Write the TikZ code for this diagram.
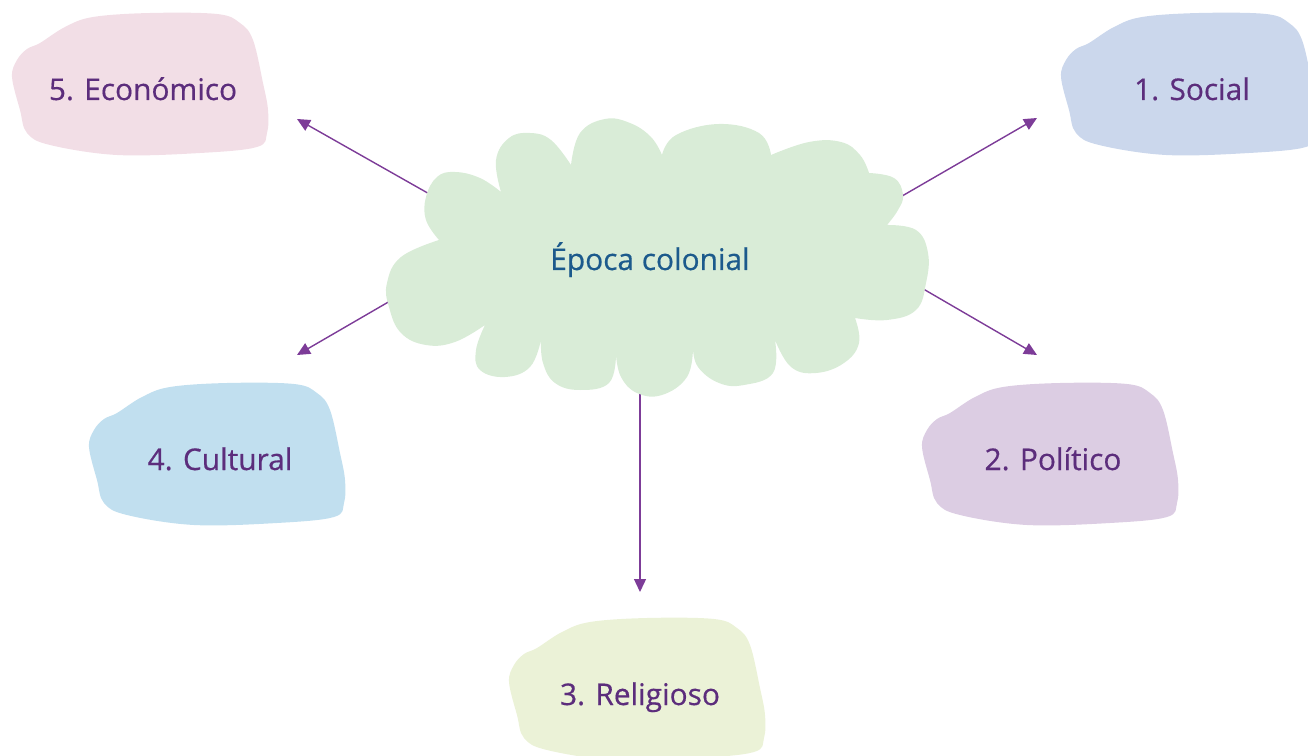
\documentclass[tikz,border=0pt]{standalone}
\usepackage{fontspec}
\setmainfont{Open Sans}
\newfontfamily\etiqfont{Open Sans}[FakeBold=0.5]
\usepackage{tikz}
\usetikzlibrary{arrows.meta,positioning}
\definecolor{ecorose}{HTML}{F2DEE6}
\definecolor{socbleu}{HTML}{CBD7EC}
\definecolor{culbleu}{HTML}{C1DFEF}
\definecolor{polmauve}{HTML}{DCCDE3}
\definecolor{relvert}{HTML}{EBF2D7}
\definecolor{nuagevert}{HTML}{D9ECD7}
\definecolor{textviolet}{HTML}{5C2D7C}
\definecolor{textbleu}{HTML}{1C5A8C}
\definecolor{flecheviolet}{HTML}{7D3C98}

\begin{document}
\begin{tikzpicture}[
    x=0.02cm,y=0.02cm,
    etiq/.style   = {font=\etiqfont\fontsize{17}{20}\selectfont, text=textviolet,
                     anchor=base, inner sep=0pt},
    titre/.style  = {font=\etiqfont\fontsize{17}{20}\selectfont, text=textbleu,
                     anchor=base, inner sep=0pt},
    fleche/.style = {-{Triangle[length=2.6mm,width=2.4mm]}, flecheviolet,
                     line width=0.8pt},
  ]

  \tikzset{tache/.pic={
      \fill[#1] plot[smooth cycle,tension=0.6] coordinates {
        (-103,46) (-78,62) (-50,72) (7,76) (74,75) (97,66) (110,49)
        (120,6) (125,-21) (124,-44) (114,-58) (57,-64) (-26,-66)
        (-93,-56) (-116,-44) (-123,-21) (-131,12) (-126,29) (-116,40)};}}

  \useasboundingbox (0,0) rectangle (1308,755);

  % taches de couleur
  \pic at (143,666)  {tache=ecorose};
  \pic at (1192,666) {tache=socbleu};
  \pic at (220,296)  {tache=culbleu};
  \pic at (1053,296) {tache=polmauve};
  \pic at (640,61)   {tache=relvert};

  % fleches (sous le nuage)
  \coordinate (depeco) at (440,555);
  \coordinate (depsoc) at (890,552);
  \coordinate (depcul) at (397,458);
  \coordinate (deppol) at (913,472);
  \coordinate (deprel) at (640,375);
  \coordinate (fineco) at (297,636);
  \coordinate (finsoc) at (1037,637);
  \coordinate (fincul) at (297,400);
  \coordinate (finpol) at (1037,400);
  \coordinate (finrel) at (640,163);
  \foreach \c in {eco,soc,cul,pol,rel} \draw[fleche] (dep\c) -- (fin\c);

  % nuage central
  \fill[nuagevert] (501,563)
    -- plot[smooth,tension=0.7] coordinates {(501,563) (496,595) (509,617) (530,622) (551,615) (571,590)}
    -- plot[smooth,tension=0.7] coordinates {(571,590) (580,622) (605,636) (630,632) (651,618) (662,600)}
    -- plot[smooth,tension=0.7] coordinates {(662,600) (676,620) (719,631) (759,622) (771,600)}
    -- plot[smooth,tension=0.7] coordinates {(771,600) (809,613) (841,613) (860,600) (869,582)}
    -- plot[smooth,tension=0.7] coordinates {(869,582) (894,577) (903,560) (898,545) (887,530)}
    -- plot[smooth,tension=0.7] coordinates {(887,530) (916,525) (928,502) (926,472) (916,445) (887,435) (855,437)}
    -- plot[smooth,tension=0.7] coordinates {(855,437) (859,412) (844,392) (816,382) (791,388) (775,415)}
    -- plot[smooth,tension=0.7] coordinates {(775,415) (773,382) (744,370) (719,372) (698,388) (693,407)}
    -- plot[smooth,tension=0.7] coordinates {(693,407) (687,378) (662,360) (637,362) (621,378) (616,400)}
    -- plot[smooth,tension=0.7] coordinates {(616,400) (609,372) (580,365) (555,372) (543,392) (541,415)}
    -- plot[smooth,tension=0.7] coordinates {(541,415) (530,388) (505,378) (480,385) (476,405) (485,430)}
    -- plot[smooth,tension=0.7] coordinates {(485,430) (455,413) (426,410) (401,422) (389,448) (387,472) (401,498) (439,515)}
    -- plot[smooth,tension=0.7] coordinates {(439,515) (426,535) (426,558) (437,578) (455,583) (480,577) (501,563)}
    -- cycle;

  % textes
  \node[titre] (epoca) at (650,485) {Época colonial};
  \node[etiq] (eco) at (143,655)  {5. Económico};
  \node[etiq] (soc) at (1192,655) {1. Social};
  \node[etiq] (cul) at (220,285)  {4. Cultural};
  \node[etiq] (pol) at (1053,285) {2. Político};
  \node[etiq] (rel) at (640,50)   {3. Religioso};

\end{tikzpicture}
\end{document}
